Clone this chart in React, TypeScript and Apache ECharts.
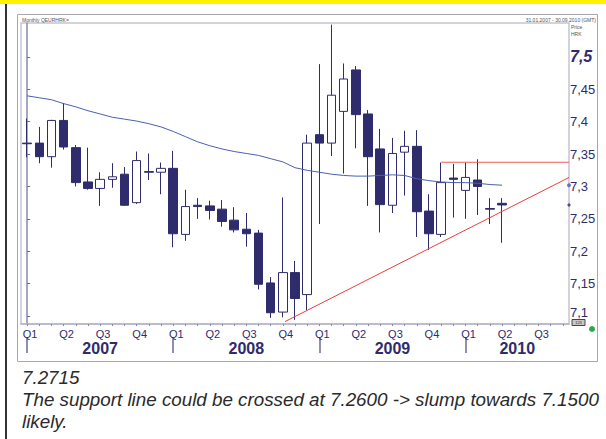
import React, { useEffect, useRef } from "react";
import * as echarts from "echarts";

// ---------- data ----------
const months: string[] = [];
for (let y = 2007; y <= 2010; y++) {
  for (let m = 1; m <= 12; m++) {
    if (y === 2010 && m > 9) break;
    months.push(`${y}-${String(m).padStart(2, "0")}`);
  }
}
const quarterLabels = ["Q1", "Q2", "Q3", "Q4"];
const yearLabels = ["2007", "2008", "2009", "2010"];
const yTickValues = [7.1, 7.15, 7.2, 7.25, 7.3, 7.35, 7.4, 7.45, 7.5];

const opens = [7.367, 7.367, 7.346, 7.402, 7.36, 7.307, 7.297, 7.311, 7.319, 7.275, 7.323, 7.322, 7.328, 7.226, 7.271, 7.27, 7.265, 7.248, 7.234, 7.228, 7.151, 7.106, 7.167, 7.133, 7.38, 7.367, 7.416, 7.48, 7.412, 7.358, 7.271, 7.353, 7.362, 7.262, 7.226, 7.313, 7.294, 7.31, 7.266, 7.274];
const closes = [7.366, 7.346, 7.402, 7.361, 7.306, 7.297, 7.311, 7.315, 7.271, 7.34, 7.322, 7.328, 7.227, 7.269, 7.269, 7.263, 7.246, 7.233, 7.227, 7.149, 7.105, 7.167, 7.127, 7.367, 7.367, 7.441, 7.466, 7.411, 7.346, 7.272, 7.351, 7.362, 7.261, 7.227, 7.306, 7.311, 7.314, 7.3, 7.265, 7.2715];
const lows = [7.345, 7.336, 7.329, 7.357, 7.3, 7.295, 7.27, 7.298, 7.27, 7.273, 7.31, 7.288, 7.206, 7.216, 7.25, 7.249, 7.238, 7.229, 7.207, 7.141, 7.097, 7.098, 7.094, 7.109, 7.242, 7.347, 7.32, 7.359, 7.27, 7.229, 7.259, 7.286, 7.222, 7.202, 7.222, 7.252, 7.25, 7.256, 7.242, 7.213];
const highs = [7.405, 7.392, 7.403, 7.429, 7.364, 7.36, 7.322, 7.336, 7.33, 7.354, 7.351, 7.337, 7.355, 7.295, 7.282, 7.278, 7.279, 7.268, 7.259, 7.233, 7.16, 7.283, 7.185, 7.38, 7.489, 7.55, 7.49, 7.486, 7.418, 7.389, 7.375, 7.386, 7.387, 7.288, 7.337, 7.335, 7.337, 7.342, 7.282, 7.282];
const movingAverage = [7.44, 7.437, 7.434, 7.428, 7.423, 7.417, 7.412, 7.407, 7.404, 7.401, 7.397, 7.392, 7.385, 7.377, 7.369, 7.363, 7.358, 7.354, 7.351, 7.348, 7.343, 7.338, 7.329, 7.325, 7.322, 7.319, 7.317, 7.316, 7.316, 7.317, 7.318, 7.317, 7.312, 7.309, 7.307, 7.306, 7.306, 7.305, 7.303, 7.302];

// support (trend) line and resistance line, [monthIndex, value]
const supportLine = [[21.17, 7.0912], [44.5, 7.3139]];
const resistanceLine = [[34, 7.3374], [44.5, 7.3374]];
const lastPrice = 7.2715;

const NAVY = "#2e2c6c";

export default function App() {
  const ref = useRef<HTMLDivElement>(null);
  useEffect(() => {
    if (!ref.current) return;
    const chart = echarts.init(ref.current, undefined, { renderer: "svg" });
    const ohlc = opens.map((o, i) => [o, closes[i], lows[i], highs[i]]);
    const axisEnd = months.length - 0.5;
    const yearCenters = yearLabels.map((_, k) => {
      const s = k * 12;
      return (s + Math.min(s + 12, axisEnd)) / 2;
    });
    const yearStarts = yearLabels.map((_, k) => k * 12);
    chart.setOption({
      animation: false,
      grid: {
        left: 21,
        top: 23,
        width: 548,
        height: 301,
        show: true,
        borderColor: "#c4c4d6",
        borderWidth: 1.5,
        backgroundColor: "#fff",
      },
      xAxis: [
        {
          type: "category",
          data: months,
          boundaryGap: true,
          axisLine: { lineStyle: { color: "#b4b4c8", width: 1.5 } },
          axisTick: { show: true, interval: 0, alignWithLabel: true, length: 2, lineStyle: { color: "#8a8ab0" } },
          axisLabel: {
            interval: (i: number) => i % 3 === 0,
            formatter: (_v: string, i: number) => quarterLabels[Math.floor((i % 12) / 3)],
            color: NAVY,
            fontSize: 11,
            fontFamily: "Liberation Sans",
            margin: 4,
            padding: [0, 0, 0, 6],
          },
          splitLine: { show: false },
        },
        {
          type: "value",
          min: -0.5,
          max: axisEnd,
          position: "bottom",
          offset: 14,
          axisLine: { show: false },
          axisTick: { show: true, customValues: yearStarts, length: 15, lineStyle: { color: "#6a6a9a", width: 1.5 } },
          axisLabel: {
            customValues: yearCenters,
            formatter: (v: number) => yearLabels[Math.floor(v / 12)],
            color: NAVY,
            fontSize: 16,
            fontWeight: "bold",
            fontFamily: "Liberation Sans",
            margin: 2,
          },
          splitLine: { show: false },
        },
      ],
      yAxis: {
        type: "value",
        position: "right",
        min: 7.0876,
        max: 7.5525,
        axisLine: { show: true, lineStyle: { color: "#8a8ab0", width: 1.5 } },
        axisTick: { show: true, customValues: yTickValues, length: 3, lineStyle: { color: "#6a6a9a" } },
        axisLabel: {
          customValues: yTickValues,
          formatter: (v: number) => {
            const s = String(Math.round(v * 100) / 100).replace(".", ",");
            if (v >= 7.499) return `{b|${s}}`;
            if (v <= 7.101) return `{lo|${s}}`;
            return s;
          },
          color: NAVY,
          fontSize: 13,
          fontFamily: "Liberation Sans",
          margin: 1,
          rich: {
            b: { fontSize: 16, fontWeight: "bold", fontStyle: "italic", color: NAVY, fontFamily: "Liberation Sans" },
            lo: { fontSize: 13, color: NAVY, fontFamily: "Liberation Sans", lineHeight: 13, padding: [0, 0, 6, 0] },
          },
        },
        splitLine: { show: false },
      },
      series: [
        {
          type: "candlestick",
          xAxisIndex: 0,
          data: ohlc,
          barWidth: 9,
          itemStyle: {
            color: "#ffffff",
            color0: NAVY,
            borderColor: NAVY,
            borderColor0: NAVY,
            borderWidth: 1,
          },
          z: 3,
        },
        {
          type: "line",
          xAxisIndex: 0,
          data: movingAverage,
          showSymbol: false,
          symbol: "none",
          lineStyle: { color: "#4a5fb2", width: 1 },
          z: 4,
        },
        {
          type: "line",
          xAxisIndex: 1,
          data: supportLine,
          showSymbol: false,
          symbol: "none",
          lineStyle: { color: "#e8403c", width: 1 },
          z: 5,
        },
        {
          type: "line",
          xAxisIndex: 1,
          data: resistanceLine,
          showSymbol: false,
          symbol: "none",
          lineStyle: { color: "#ee5a58", width: 1.2 },
          z: 5,
        },
        {
          type: "scatter",
          xAxisIndex: 1,
          clip: false,
          symbolSize: 4,
          data: [[axisEnd, movingAverage[movingAverage.length - 1]]],
          itemStyle: { color: "#3f5fc0" },
          z: 6,
        },
        {
          type: "scatter",
          xAxisIndex: 1,
          clip: false,
          symbolSize: 4,
          symbol: "diamond",
          data: [[axisEnd, lastPrice]],
          itemStyle: { color: NAVY },
          z: 6,
        },
      ],
      graphic: [
        { type: "rect", shape: { x: 0, y: 0, width: 606, height: 4 }, style: { fill: "#fff200" }, z: -10 },
        { type: "line", shape: { x1: 6, y1: 4, x2: 6, y2: 439 }, style: { stroke: "#333", lineWidth: 2 }, z: 10 },
        { type: "rect", shape: { x: 17.5, y: 14.5, width: 580, height: 347 }, style: { fill: "none", stroke: "#a8a8a8", lineWidth: 1 }, z: -5 },
        { type: "text", x: 22, y: 17.5, style: { text: "Monthly QEURHRK=", fontSize: 5, fill: "#555", fontFamily: "Liberation Sans" }, z: 10 },
        { type: "text", x: 596, y: 17.5, style: { text: "31.01.2007 - 30.09.2010 (GMT)", fontSize: 5, fill: "#555", align: "right", fontFamily: "Liberation Sans" }, z: 10 },
        { type: "text", x: 571, y: 24, style: { text: "Price", fontSize: 5, fill: "#555", fontFamily: "Liberation Sans" }, z: 10 },
        { type: "text", x: 571, y: 31, style: { text: "HRK", fontSize: 5, fill: "#555", fontFamily: "Liberation Sans" }, z: 10 },
        { type: "rect", shape: { x: 572, y: 319.5, width: 13, height: 6 }, style: { fill: "#c8c8c8", stroke: "#444", lineWidth: 1 }, z: 10 },
        { type: "text", x: 578.5, y: 322.5, style: { text: "123", fontSize: 4, fill: "#333", align: "center", verticalAlign: "middle", fontFamily: "Liberation Sans" }, z: 11 },
        { type: "circle", shape: { cx: 592, cy: 329, r: 3 }, style: { fill: "#2fa34e" }, z: 10 },
        { type: "text", x: 22, y: 377, style: { text: "7.2715", fontSize: 18.8, fontStyle: "italic", fill: "#2a2a2a", verticalAlign: "middle", fontFamily: "Liberation Sans" }, z: 10 },
        { type: "text", x: 22, y: 399, style: { text: "The support line could be crossed at 7.2600 -> slump towards 7.1500", fontSize: 18.8, fontStyle: "italic", fill: "#2a2a2a", verticalAlign: "middle", fontFamily: "Liberation Sans" }, z: 10 },
        { type: "text", x: 22, y: 421, style: { text: "likely.", fontSize: 18.8, fontStyle: "italic", fill: "#2a2a2a", verticalAlign: "middle", fontFamily: "Liberation Sans" }, z: 10 },
      ],
    });
    return () => chart.dispose();
  }, []);
  return (
    <div
      ref={ref}
      style={{ position: "absolute", left: 0, top: 0, width: 606, height: 439, background: "#fff" }}
    />
  );
}
